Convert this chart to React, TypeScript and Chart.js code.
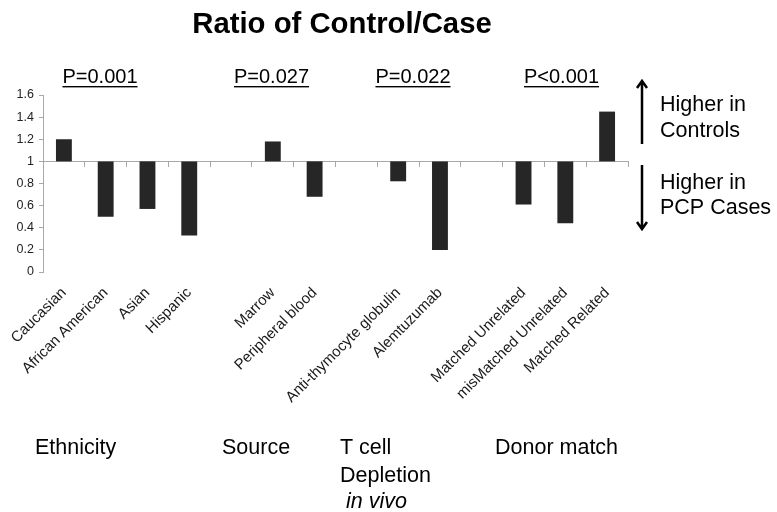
import React, { useEffect, useRef } from 'react';
import { Chart, registerables } from 'chart.js';

Chart.register(...registerables);

// ---- data ----
const categories: string[] = [
  'Caucasian',
  'African American',
  'Asian',
  'Hispanic',
  '',
  'Marrow',
  'Peripheral blood',
  '',
  'Anti-thymocyte globulin',
  'Alemtuzumab',
  '',
  'Matched Unrelated',
  'misMatched Unrelated',
  'Matched Related',
];
const ratios: (number | null)[] = [1.2, 0.5, 0.57, 0.33, null, 1.18, 0.68, null, 0.82, 0.2, null, 0.61, 0.44, 1.45];
const baseline = 1;
const yMin = 0;
const yMax = 1.6;
const yStep = 0.2;

const titleText = 'Ratio of Control/Case';
const pValues = ['P=0.001', 'P=0.027', 'P=0.022', 'P<0.001'];
const upLabel = ['Higher in', 'Controls'];
const downLabel = ['Higher in', 'PCP Cases'];
const groupNames: string[][] = [['Ethnicity'], ['Source'], ['T cell', 'Depletion'], ['Donor match']];
const groupItalic: string[] = ['', '', ' in vivo', ''];

// ---- layout (pixels) ----
const W = 777;
const H = 512;
const FONT = '"Liberation Sans", Arial, Helvetica, sans-serif';
const pCenters = [100, 271.5, 413, 561.5];
const groupX = [35, 222, 340, 495];

const overlay = {
  id: 'overlay',
  afterDraw(chart: any) {
    const ctx: CanvasRenderingContext2D = chart.ctx;
    ctx.save();
    ctx.fillStyle = '#000';
    ctx.strokeStyle = '#000';
    ctx.textBaseline = 'alphabetic';

    // title
    ctx.font = `bold 29.3px ${FONT}`;
    ctx.textAlign = 'center';
    ctx.fillText(titleText, 342, 33);

    // p values, underlined
    ctx.font = `20px ${FONT}`;
    pValues.forEach((p, i) => {
      const cx = pCenters[i];
      ctx.fillText(p, cx, 83);
      const w = ctx.measureText(p).width;
      ctx.fillRect(cx - w / 2, 86, w, 1.4);
    });

    // arrows
    const ax = 642;
    ctx.lineWidth = 2.5;
    ctx.lineCap = 'butt';
    ctx.beginPath();
    ctx.moveTo(ax, 144);
    ctx.lineTo(ax, 81);
    ctx.moveTo(ax - 5, 88);
    ctx.lineTo(ax, 81);
    ctx.lineTo(ax + 5, 88);
    ctx.moveTo(ax, 165);
    ctx.lineTo(ax, 229);
    ctx.moveTo(ax - 5, 222);
    ctx.lineTo(ax, 229);
    ctx.lineTo(ax + 5, 222);
    ctx.stroke();

    // direction labels
    ctx.font = `21.5px ${FONT}`;
    ctx.textAlign = 'left';
    ctx.fillText(upLabel[0], 660, 111);
    ctx.fillText(upLabel[1], 660, 137);
    ctx.fillText(downLabel[0], 660, 189);
    ctx.fillText(downLabel[1], 660, 214);

    // group labels
    groupNames.forEach((lines, i) => {
      ctx.font = `21.5px ${FONT}`;
      lines.forEach((ln, j) => ctx.fillText(ln, groupX[i], 454 + j * 27.5));
      if (groupItalic[i]) {
        ctx.font = `italic 21.5px ${FONT}`;
        ctx.fillText(groupItalic[i], groupX[i], 454 + lines.length * 27);
      }
    });
    ctx.restore();
  },
};

export default function App() {
  const ref = useRef<HTMLCanvasElement | null>(null);

  useEffect(() => {
    document.body.style.margin = '0';
    const canvas = ref.current!;
    const chart = new Chart(canvas, {
      type: 'bar',
      data: {
        labels: categories,
        datasets: [
          {
            data: ratios.map((v) => (v == null ? null : [baseline, v])) as any,
            backgroundColor: '#262626',
            borderWidth: 0,
            barPercentage: 0.38,
            categoryPercentage: 1,
          },
        ],
      },
      options: {
        responsive: false,
        animation: false,
        layout: { padding: { top: 95, right: 149, bottom: 0, left: 0 } },
        plugins: {
          legend: { display: false },
          tooltip: { enabled: false },
          title: { display: false },
        },
        scales: {
          x: {
            type: 'category',
            position: 'bottom',
            offset: true,
            grid: { display: false },
            border: { display: false },
            ticks: {
              autoSkip: false,
              minRotation: 45,
              maxRotation: 45,
              padding: 4,
              color: '#1a1a1a',
              font: { family: FONT, size: 15 },
            },
            afterFit: (s: any) => {
              s.height = H - 272;
            },
          },
          x2: {
            type: 'category',
            position: { y: baseline } as any,
            offset: true,
            grid: {
              display: true,
              offset: true,
              drawOnChartArea: false,
              drawTicks: true,
              tickLength: 5,
              color: '#a8a8a8',
              lineWidth: 1,
            },
            border: { display: true, color: '#a8a8a8', width: 1 },
            ticks: { display: false },
          },
          y: {
            type: 'linear',
            min: yMin,
            max: yMax,
            ticks: {
              stepSize: yStep,
              padding: 5,
              color: '#222',
              font: { family: FONT, size: 12.5 },
              callback: (v: any) => String(Math.round(Number(v) * 10) / 10),
            },
            grid: {
              display: true,
              drawOnChartArea: false,
              drawTicks: true,
              tickLength: 4,
              color: '#a8a8a8',
            },
            border: { display: true, color: '#a8a8a8', width: 1 },
            afterFit: (s: any) => {
              s.width = 43;
            },
          },
        },
      },
      plugins: [overlay],
    });
    return () => chart.destroy();
  }, []);

  return (
    <div style={{ position: 'fixed', left: 0, top: 0, width: W, height: H, background: '#fff' }}>
      <canvas ref={ref} width={W} height={H} style={{ width: W, height: H, display: 'block' }} />
    </div>
  );
}
